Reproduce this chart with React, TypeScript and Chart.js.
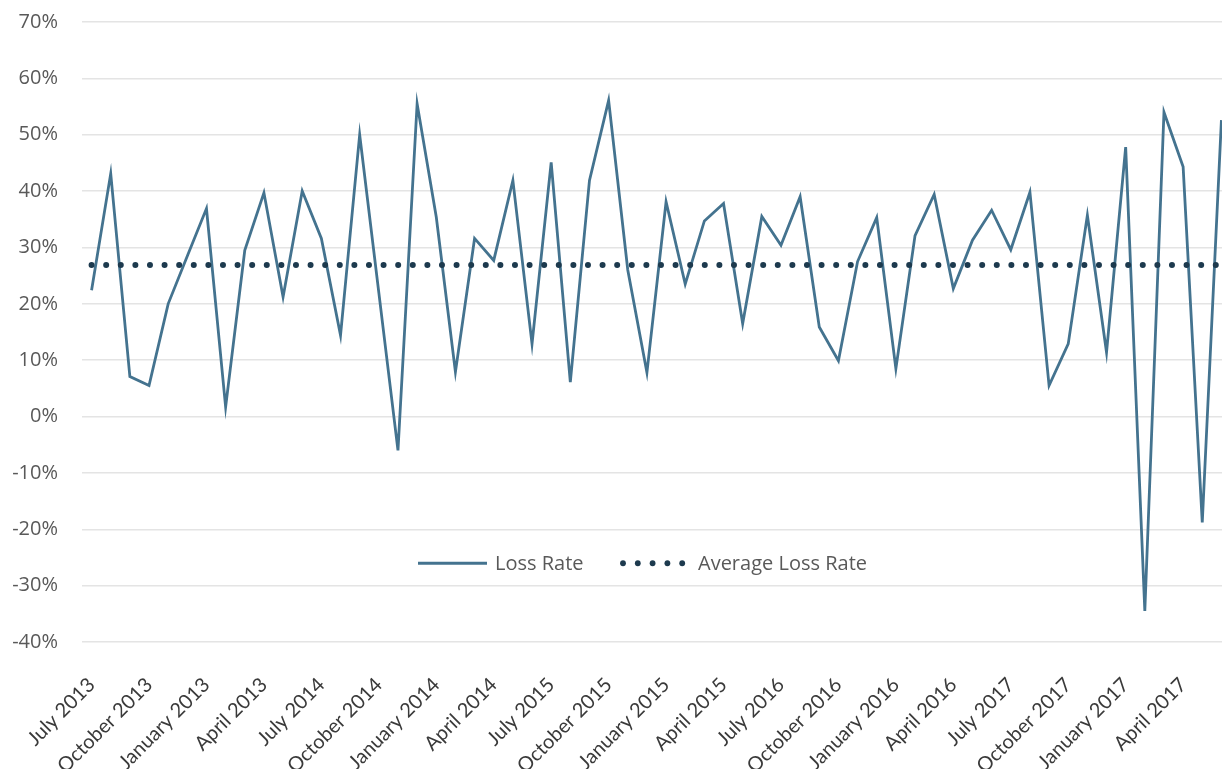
import React, { useEffect, useRef } from 'react';
import { Chart, registerables } from 'chart.js';

Chart.register(...registerables);

// ---- data ----
const TICK_LABELS = [
  'July 2013', 'October 2013', 'January 2013', 'April 2013',
  'July 2014', 'October 2014', 'January 2014', 'April 2014',
  'July 2015', 'October 2015', 'January 2015', 'April 2015',
  'July 2016', 'October 2016', 'January 2016', 'April 2016',
  'July 2017', 'October 2017', 'January 2017', 'April 2017',
];

const LOSS_RATE = [
  22.4, 43.1, 7.1, 5.5, 20.0, 28.5, 36.9, 1.7, 29.5, 39.7,
  21.2, 40.0, 31.6, 14.4, 50.0, 22.0, -6.0, 55.5, 35.4, 7.9,
  31.6, 27.7, 41.9, 12.9, 45.1, 6.1, 41.9, 56.1, 26.0, 7.8,
  38.1, 23.5, 34.7, 37.8, 16.5, 35.5, 30.4, 39.0, 15.9, 9.9,
  27.5, 35.3, 8.5, 32.1, 39.4, 22.7, 31.3, 36.6, 29.6, 39.8,
  5.5, 12.9, 35.7, 11.4, 47.8, -34.5, 54.0, 44.3, -18.8, 52.6,
];

const AVERAGE_LOSS_RATE = 26.9;

const SERIES_NAMES = ['Loss Rate', 'Average Loss Rate'];

const Y_MIN = -40;
const Y_MAX = 70;
const Y_STEP = 10;
const POINTS_PER_TICK = 3;

// ---- styles ----
const LOSS_COLOR = '#44738f';
const AVG_COLOR = '#1d3a4e';
const TEXT_COLOR = '#595959';
const XTEXT_COLOR = '#3a3a3a';
const GRID_COLOR = '#e4e4e4';

const categories = LOSS_RATE.map((_, i) =>
  i % POINTS_PER_TICK === 0 ? TICK_LABELS[i / POINTS_PER_TICK] : ''
);
const averageSeries = LOSS_RATE.map(() => AVERAGE_LOSS_RATE);

const inlineLegend = {
  id: 'inlineLegend',
  afterDatasetsDraw(chart: any) {
    const { ctx, chartArea } = chart;
    const y = chartArea.top + (chartArea.bottom - chartArea.top) * 0.873;
    const x0 = chartArea.left + 336;
    ctx.save();
    ctx.font = '20px "Open Sans"';
    ctx.fillStyle = TEXT_COLOR;
    ctx.textBaseline = 'middle';
    ctx.textAlign = 'left';
    // line sample
    ctx.strokeStyle = LOSS_COLOR;
    ctx.lineWidth = 3;
    ctx.beginPath();
    ctx.moveTo(x0, y);
    ctx.lineTo(x0 + 69, y);
    ctx.stroke();
    ctx.fillText(chart.data.datasets[0].label, x0 + 77, y + 1);
    // dotted sample
    ctx.fillStyle = AVG_COLOR;
    for (let k = 0; k < 5; k++) {
      ctx.beginPath();
      ctx.arc(x0 + 205 + k * 14.8, y, 2.9, 0, Math.PI * 2);
      ctx.fill();
    }
    ctx.fillStyle = TEXT_COLOR;
    ctx.fillText(chart.data.datasets[1].label, x0 + 280, y + 1);
    ctx.restore();
  },
};

export default function App() {
  const ref = useRef<HTMLCanvasElement | null>(null);

  useEffect(() => {
    if (!ref.current) return;
    const chart = new Chart(ref.current, {
      type: 'line',
      data: {
        labels: categories,
        datasets: [
          {
            label: SERIES_NAMES[0],
            data: LOSS_RATE,
            borderColor: LOSS_COLOR,
            borderWidth: 2.8,
            pointRadius: 0,
            tension: 0,
            fill: false,
            order: 2,
          },
          {
            label: SERIES_NAMES[1],
            data: averageSeries,
            borderColor: AVG_COLOR,
            borderWidth: 6,
            borderDash: [0, 14.6],
            borderCapStyle: 'round',
            pointRadius: 0,
            tension: 0,
            fill: false,
            order: 1,
          },
        ],
      },
      options: {
        animation: false,
        responsive: true,
        maintainAspectRatio: false,
        layout: { padding: { left: 10, top: 0, right: 0, bottom: 0 } },
        plugins: {
          legend: { display: false },
          tooltip: { enabled: false },
        },
        scales: {
          x: {
            type: 'category',
            offset: true,
            grid: { display: false, drawTicks: false },
            border: { display: false },
            afterFit: (scale: any) => {
              scale.height = 127;
              scale.paddingLeft = 0;
              scale.paddingRight = 0;
            },
            ticks: {
              autoSkip: false,
              minRotation: 45,
              maxRotation: 45,
              padding: 31,
              color: XTEXT_COLOR,
              font: { family: 'Lato', size: 20 },
            },
          },
          y: {
            min: Y_MIN,
            max: Y_MAX,
            grid: { color: GRID_COLOR, lineWidth: 1.5, drawTicks: false },
            border: { display: false },
            afterFit: (scale: any) => {
              scale.width = 72;
              scale.paddingTop = 22;
              scale.paddingBottom = 0;
            },
            ticks: {
              stepSize: Y_STEP,
              padding: 24,
              color: TEXT_COLOR,
              font: { family: 'Open Sans', size: 20 },
              callback: (v: any) => `${Math.round(Number(v))}%`,
            },
          },
        },
      },
      plugins: [inlineLegend],
    });
    return () => chart.destroy();
  }, []);

  return (
    <div
      style={{
        position: 'fixed',
        left: 0,
        top: 0,
        width: '100vw',
        height: '100vh',
        overflow: 'hidden',
        background: '#ffffff',
      }}
    >
      <div style={{ position: 'absolute', left: 0, top: 0, width: 1231, height: 769 }}>
        <canvas ref={ref} />
      </div>
    </div>
  );
}
